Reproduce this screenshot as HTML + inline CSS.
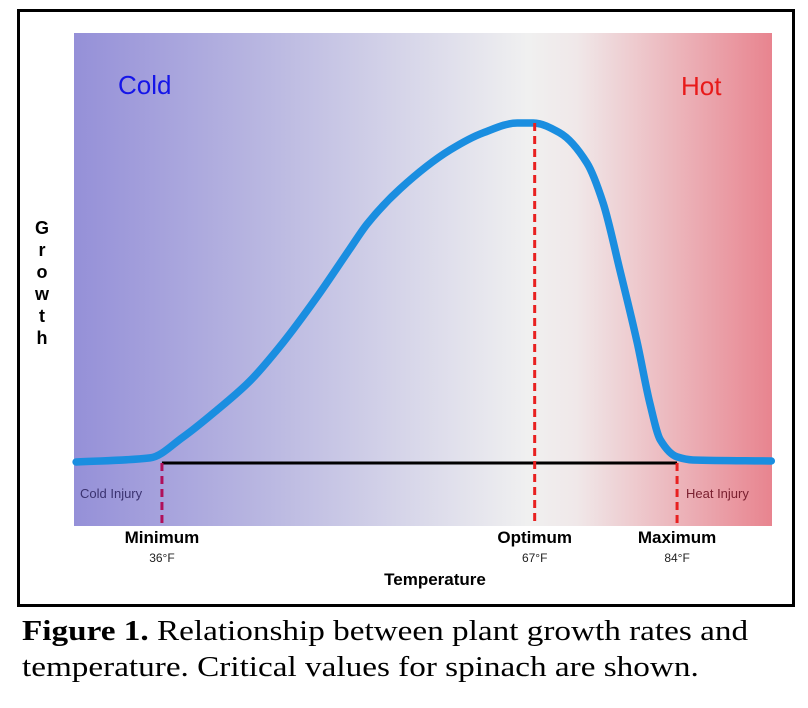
<!DOCTYPE html>
<html><head><meta charset="utf-8"><style>
body{margin:0;background:#fff;width:808px;height:708px;overflow:hidden;font-family:"Liberation Sans",sans-serif}
#frame{position:absolute;left:17px;top:9px;width:772px;height:592px;border:3px solid #000}
.cap{position:absolute;left:22px;font-family:"Liberation Serif",serif;font-size:29px;color:#000;white-space:nowrap;transform:scaleX(1.145);transform-origin:0 0}
</style></head><body>
<div id="frame"></div>
<svg id="chart" width="808" height="610" style="position:absolute;left:0;top:0">
<defs><linearGradient id="bg" x1="0" x2="1" y1="0" y2="0">
<stop offset="0" stop-color="#9590d8"/><stop offset="0.3" stop-color="#bdbbe2"/><stop offset="0.65" stop-color="#f0f0f0"/><stop offset="0.72" stop-color="#f0e8e9"/><stop offset="1" stop-color="#e8848f"/></linearGradient></defs>
<rect x="74" y="33" width="698" height="493" fill="url(#bg)"/>
<text x="118" y="94" font-size="26" fill="#1515e8">Cold</text>
<text x="681" y="95" font-size="26" fill="#e81a1a">Hot</text>
<g font-size="18" font-weight="bold" text-anchor="middle">
<text x="42" y="234">G</text><text x="42" y="256">r</text><text x="42" y="278">o</text><text x="42" y="300">w</text><text x="42" y="322">t</text><text x="42" y="344">h</text></g>
<text x="80" y="498" font-size="13" fill="#3a3270">Cold Injury</text>
<text x="686" y="498" font-size="13" fill="#7a2030">Heat Injury</text>
<text x="435" y="585" font-size="17" font-weight="bold" text-anchor="middle">Temperature</text>
<g id="marks"></g>
</svg>
<div class="cap" style="top:615px"><b>Figure 1.</b> Relationship between plant growth rates and</div>
<div class="cap" style="top:651px">temperature. Critical values for spinach are shown.</div>
<script>
const curveT=[0.3,10.9,15.6,20.5,25.2,29.9,34.8,39.5,42,46.7,53.9,58.6,63.5,65.8,69.6,73.5,75.8,78.2,80.7,82.5,84,86.4,88.7,99.9];
const curveG=[0.3,1.5,7.6,15.6,24.1,35.3,48.8,62.9,70.3,80.6,92.1,97.1,100,100,97.1,88.2,76.5,56.8,35.3,17.6,6.8,1.8,0.9,0.6];
const markerNames=["Minimum","Optimum","Maximum"];
const markerTemps=["36°F","67°F","84°F"];
const markerT=[12.6,66,86.4];
const markerColors=["#b0105a","#e82020","#e82020"];
const X=t=>74+t*6.98, Y=g=>463-g*3.4;
const NS="http://www.w3.org/2000/svg", g=document.getElementById('marks');
function mk(tag,a){const e=document.createElementNS(NS,tag);for(const k in a)e.setAttribute(k,a[k]);g.appendChild(e);return e;}
const base=mk('line',{x1:X(markerT[0]),x2:X(markerT[2]),y1:Y(0),y2:Y(0),stroke:'#000',"stroke-width":3});


markerT.forEach((t,i)=>{
 const l=mk('line',{x1:X(t),x2:X(t),y1:Y(0),y2:526,stroke:markerColors[i],"stroke-width":3,"stroke-dasharray":"8,5"});
 
 
 if(i==1){l.setAttribute('y1',Y(100));}
 const a=mk('text',{x:X(t),y:543,"font-size":17,"font-weight":"bold","text-anchor":"middle"});a.textContent=markerNames[i];
 
 
 const b=mk('text',{x:X(t),y:562,"font-size":12,"text-anchor":"middle",fill:"#222"});b.textContent=markerTemps[i];
 
 
});
const xs=curveT.map(X), ys=curveG.map(Y), n=xs.length;
const dx=[],sl=[];for(let i=0;i<n-1;i++){dx.push(xs[i+1]-xs[i]);sl.push((ys[i+1]-ys[i])/dx[i]);}
const m=[sl[0]];
for(let i=1;i<n-1;i++){ if(sl[i-1]*sl[i]<=0) m.push(0); else { const w1=2*dx[i]+dx[i-1],w2=dx[i]+2*dx[i-1]; m.push((w1+w2)/(w1/sl[i-1]+w2/sl[i])); } }
m.push(sl[n-2]);
let d="M"+xs[0]+","+ys[0];
for(let i=0;i<n-1;i++){const h=dx[i]/3;
 d+=` C${xs[i]+h},${ys[i]+m[i]*h} ${xs[i+1]-h},${ys[i+1]-m[i+1]*h} ${xs[i+1]},${ys[i+1]}`;}
const c=mk('path',{d:d,fill:'none',stroke:'#1a8ee0',"stroke-width":7.5,"stroke-linecap":"round","stroke-linejoin":"round"});


g.insertBefore(c,g.children[1]);
</script>
</body></html>
